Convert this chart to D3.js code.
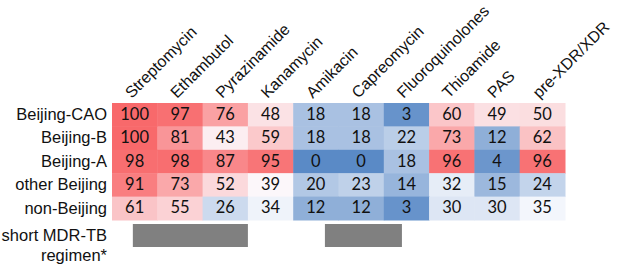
<!DOCTYPE html>
<html>
<head>
<meta charset="utf-8">
<script src="https://cdn.jsdelivr.net/npm/d3@7"></script>
<style>
  body { margin: 0; background: #fff; }
  svg { display: block; }
</style>
</head>
<body>
<main></main>
<script>
const drugs = ['Streptomycin', 'Ethambutol', 'Pyrazinamide', 'Kanamycin', 'Amikacin',
  'Capreomycin', 'Fluoroquinolones', 'Thioamide', 'PAS', 'pre-XDR/XDR'];
const lineages = ['Beijing-CAO', 'Beijing-B', 'Beijing-A', 'other Beijing', 'non-Beijing'];

const beijingCAO = [100, 97, 76, 48, 18, 18, 3, 60, 49, 50];
const beijingB = [100, 81, 43, 59, 18, 18, 22, 73, 12, 62];
const beijingA = [98, 98, 87, 95, 0, 0, 18, 96, 4, 96];
const otherBeijing = [91, 73, 52, 39, 20, 23, 14, 32, 15, 24];
const nonBeijing = [61, 55, 26, 34, 12, 12, 3, 30, 30, 35];

// short regimen bars, in column units (as drawn in the figure)
const regimenStart = [0.46, 4.7];
const regimenEnd = [3.0, 6.4];

const rowsData = [beijingCAO, beijingB, beijingA, otherBeijing, nonBeijing];

function drawHeatmap() {
  const width = 617;
  const height = 266;

  const cells = [];
  rowsData.forEach((vals, r) => {
    vals.forEach((v, c) => {
      cells.push({ row: lineages[r], drug: drugs[c], value: v });
    });
  });

  const all = cells.map(d => d.value).sort(d3.ascending);
  const mid = d3.quantile(all, 0.5);

  const color = d3.scaleLinear()
    .domain([d3.min(all), mid, d3.max(all)])
    .range(['#5A8AC6', '#FCFCFF', '#F8696B']);

  const x = d3.scaleBand().domain(drugs).range([112, 565]);
  const y = d3.scaleBand().domain(lineages).range([103, 220]);
  const xPos = d3.scaleLinear().domain([0, drugs.length]).range(x.range());

  const svg = d3.select('main')
    .append('svg')
    .attr('width', width)
    .attr('height', height)
    .attr('viewBox', [0, 0, width, height]);

  const cellGroup = svg.append('g');

  cellGroup.selectAll('rect')
    .data(cells)
    .enter()
    .append('rect')
    .attr('x', d => x(d.drug))
    .attr('y', d => y(d.row))
    .attr('width', x.bandwidth() + 0.5)
    .attr('height', y.bandwidth() + 0.5)
    .attr('fill', d => color(d.value));

  cellGroup.selectAll('text')
    .data(cells)
    .enter()
    .append('text')
    .attr('x', d => x(d.drug) + x.bandwidth() / 2)
    .attr('y', d => y(d.row) + y.bandwidth() / 2 + 1)
    .attr('text-anchor', 'middle')
    .attr('dominant-baseline', 'middle')
    .attr('font-family', 'Lato, "Open Sans", sans-serif')
    .attr('font-size', 16.5)
    .attr('fill', '#111')
    .text(d => d.value);

  // row labels
  svg.append('g')
    .selectAll('text')
    .data(lineages)
    .enter()
    .append('text')
    .attr('x', 107)
    .attr('y', d => y(d) + y.bandwidth() / 2 + 1)
    .attr('text-anchor', 'end')
    .attr('dominant-baseline', 'middle')
    .attr('font-family', '"Liberation Sans", Arial, sans-serif')
    .attr('font-size', 16.5)
    .attr('fill', '#111')
    .text(d => d);

  // column labels
  svg.append('g')
    .selectAll('text')
    .data(drugs)
    .enter()
    .append('text')
    .attr('transform', d => `translate(${x(d) + x.bandwidth() / 2 - 3} ${99}) rotate(-45)`)
    .attr('font-family', '"Liberation Sans", Arial, sans-serif')
    .attr('font-size', 16)
    .attr('fill', '#111')
    .text(d => d);

  // short regimen
  const regY = y.range()[1] + 4;
  svg.append('g')
    .selectAll('rect')
    .data(regimenStart.map((s, i) => ({ s, e: regimenEnd[i] })))
    .enter()
    .append('rect')
    .attr('x', d => xPos(d.s))
    .attr('y', regY)
    .attr('width', d => xPos(d.e) - xPos(d.s))
    .attr('height', 23)
    .attr('fill', '#808080');

  const regLabel = svg.append('text')
    .attr('text-anchor', 'end')
    .attr('font-family', '"Liberation Sans", Arial, sans-serif')
    .attr('font-size', 16.5)
    .attr('fill', '#111');
  regLabel.append('tspan').attr('x', 107).attr('y', 241).text('short MDR-TB');
  regLabel.append('tspan').attr('x', 107).attr('y', 261).text('regimen*');
}

drawHeatmap();
</script>
</body>
</html>
